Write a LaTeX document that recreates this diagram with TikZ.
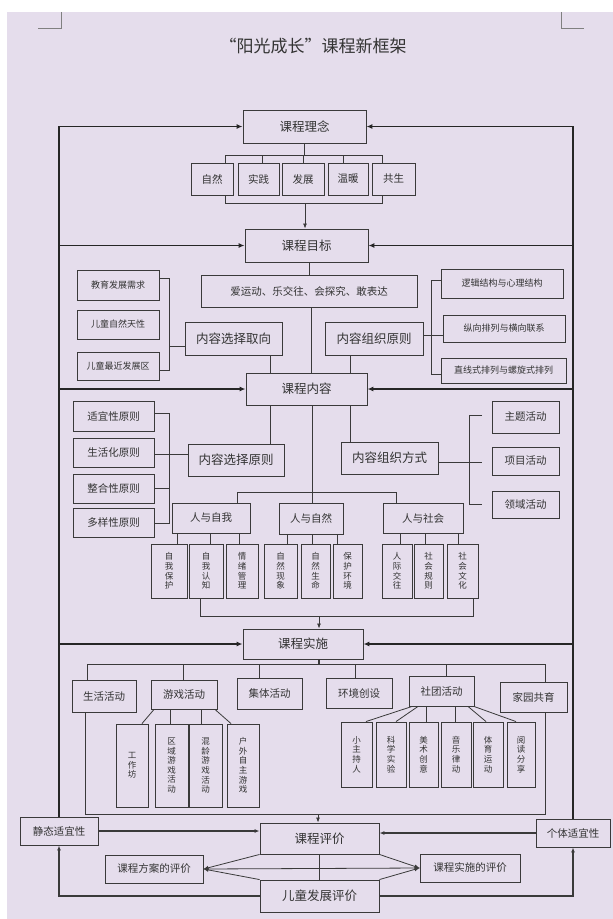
\documentclass[tikz,border=0pt]{standalone}
\usepackage{fontspec}
\setmainfont{Noto Sans CJK SC}
\usetikzlibrary{arrows.meta,calc}
\definecolor{bgc}{HTML}{E5DDEC}
\definecolor{boxc}{HTML}{3A3A3A}
\definecolor{txt}{HTML}{333333}
\begin{document}
\begin{tikzpicture}[x=1pt,y=-1pt,
 box/.style={draw=boxc,line width=0.9pt,text=txt,inner sep=0pt,align=center},
 big/.style={font=\fontsize{12.5}{14}\selectfont},
 mid/.style={font=\fontsize{10.5}{12}\selectfont},
 sml/.style={font=\fontsize{9}{10}\selectfont},
 vt/.style={font=\fontsize{8.5}{9.6}\selectfont},
 ln/.style={draw=boxc,line width=0.8pt},
 loopln/.style={draw=black!85,line width=1.7pt},
 tip/.style={-{Latex[length=6pt,width=5pt]}},
 stip/.style={-{Latex[length=5pt,width=4pt]}},
]
\useasboundingbox (0,0) rectangle (613,919);
\fill[white] (0,0) rectangle (613,919);
\fill[bgc] (7,12) rectangle (613,919);
\draw[gray,line width=0.6pt] (61,12) -- (61,28) -- (38,28);
\draw[gray,line width=0.6pt] (561,12) -- (561,28) -- (584,28);
\node[text=txt,font=\fontsize{17}{20}\selectfont] (title) at (313,46) {“阳光成长”课程新框架};

% ---- 课程理念 ----
\node[box,big,minimum width=123pt,minimum height=33pt] (lin) at (304.5,126.5) {课程理念};
\node[box,mid,minimum width=42pt,minimum height=32pt] (zr) at (212,179) {自然};
\node[box,mid,minimum width=41pt,minimum height=32pt] (sj) at (258.5,179) {实践};
\node[box,mid,minimum width=42pt,minimum height=32pt] (fz) at (303,179) {发展};
\node[box,mid,minimum width=40pt,minimum height=32pt] (wn) at (348,179) {温暖};
\node[box,mid,minimum width=43pt,minimum height=32pt] (gs) at (393.5,179) {共生};
\draw[ln] (lin.south) -- (304.5,155);
\draw[ln] (225,155) -- (382,155);
\draw[ln] (225,155) -- (225,155 |- zr.north);
\draw[ln] (262,155) -- (262,155 |- sj.north);
\draw[ln] (303,155) -- (303,155 |- fz.north);
\draw[ln] (343,155) -- (343,155 |- wn.north);
\draw[ln] (382,155) -- (382,155 |- gs.north);
\draw[ln] (zr.south -| 225,0) -- (225,203) -- (382,203) -- (gs.south -| 382,0);

% ---- 课程目标 ----
\node[box,big,minimum width=123pt,minimum height=33pt] (mb) at (306.5,245.5) {课程目标};
\draw[ln,stip] (305,203) -- (305,203 |- mb.north);
\node[box,mid,minimum width=216pt,minimum height=32pt] (ay) at (309,291) {爱运动、乐交往、会探究、敢表达};
\draw[ln] (ay.north -| 309,0) -- (309,0 |- mb.south);

\node[box,sml,minimum width=82pt,minimum height=30pt] (jy) at (118,285) {教育发展需求};
\node[box,sml,minimum width=82pt,minimum height=29pt] (tx) at (118,324.5) {儿童自然天性};
\node[box,sml,minimum width=82pt,minimum height=28pt] (zj) at (118,366) {儿童最近发展区};
\node[box,big,minimum width=97pt,minimum height=33pt] (xzqx) at (233.5,338.5) {内容选择取向};
\node[box,big,minimum width=98pt,minimum height=33pt] (zzyz) at (374,338.5) {内容组织原则};
\draw[ln] (jy.east |- 0,278) -- (169,278) -- (169,370) -- (zj.east |- 0,370);
\draw[ln] (169,346) -- (169,346 -| xzqx.west);

\node[box,sml,minimum width=122pt,minimum height=29pt] (lj) at (502,283.5) {逻辑结构与心理结构};
\node[box,sml,minimum width=122pt,minimum height=27pt] (zx) at (504,328.5) {纵向排列与横向联系};
\node[box,sml,minimum width=125pt,minimum height=25pt] (zxs) at (503.5,370.5) {直线式排列与螺旋式排列};
\draw[ln] (lj.west |- 0,280) -- (431,280) -- (431,374) -- (zxs.west |- 0,374);
\draw[ln] (zzyz.east |- 0,335) -- (zx.west |- 0,335);

% ---- 课程内容 ----
\node[box,big,minimum width=121pt,minimum height=32pt] (nr) at (306.5,389) {课程内容};
\draw[ln] (xzqx.south -| 270,0) -- (270,0 |- nr.north);
\draw[ln] (ay.south -| 311,0) -- (311,0 |- nr.north);
\draw[ln] (zzyz.south -| 350,0) -- (350,0 |- nr.north);

\node[box,mid,minimum width=81pt,minimum height=30pt] (sy) at (113.5,416) {适宜性原则};
\node[box,mid,minimum width=81pt,minimum height=29pt] (sh) at (113.5,452.5) {生活化原则};
\node[box,mid,minimum width=81pt,minimum height=29pt] (zh) at (113.5,488.5) {整合性原则};
\node[box,mid,minimum width=81pt,minimum height=29pt] (dy) at (113.5,522.5) {多样性原则};
\node[box,big,minimum width=96pt,minimum height=32pt] (xzyz) at (236,460) {内容选择原则};
\node[box,big,minimum width=97pt,minimum height=32pt] (zzfs) at (389.5,458) {内容组织方式};
\draw[ln] (sy.east |- 0,413) -- (169,413) -- (169,523) -- (dy.east |- 0,523);
\draw[ln] (169,488) -- (zh.east |- 0,488);
\draw[ln] (sh.east |- 0,454) -- (xzyz.west |- 0,454);
\draw[ln] (nr.south -| 270,0) -- (270,0 |- xzyz.north);
\draw[ln] (nr.south -| 350,0) -- (350,0 |- zzfs.north);

\node[box,mid,minimum width=67pt,minimum height=32pt] (zt) at (525.5,417) {主题活动};
\node[box,mid,minimum width=67pt,minimum height=28pt] (xm) at (525.5,461) {项目活动};
\node[box,mid,minimum width=67pt,minimum height=27pt] (ly) at (525.5,504.5) {领域活动};
\draw[ln] (482,415) -- (469,415) -- (469,504) -- (482,504);
\draw[ln] (zzfs.east |- 0,462) -- (482,462);

\node[box,mid,minimum width=78pt,minimum height=30pt] (rwzw) at (211,518) {人与自我};
\node[box,mid,minimum width=64pt,minimum height=31pt] (rwzr) at (311,518.5) {人与自然};
\node[box,mid,minimum width=80pt,minimum height=30pt] (rwsh) at (423,518) {人与社会};
\draw[ln] (nr.south -| 312,0) -- (312,492);
\draw[ln] (237,0 |- rwzw.north) -- (237,492) -- (396,492) -- (396,0 |- rwsh.north);
\draw[ln] (312,492) -- (312,0 |- rwzr.north);

\node[box,vt,minimum width=36pt,minimum height=54pt] (a1) at (169,571) {自\\我\\保\\护};
\node[box,vt,minimum width=34pt,minimum height=54pt] (a2) at (206,571) {自\\我\\认\\知};
\node[box,vt,minimum width=32pt,minimum height=54pt] (a3) at (242,571) {情\\绪\\管\\理};
\node[box,vt,minimum width=33pt,minimum height=54pt] (b1) at (280.5,571) {自\\然\\现\\象};
\node[box,vt,minimum width=29pt,minimum height=54pt] (b2) at (315.5,571) {自\\然\\生\\命};
\node[box,vt,minimum width=29pt,minimum height=54pt] (b3) at (347.5,571) {保\\护\\环\\境};
\node[box,vt,minimum width=30pt,minimum height=54pt] (c1) at (397,571) {人\\际\\交\\往};
\node[box,vt,minimum width=29pt,minimum height=54pt] (c2) at (428.5,571) {社\\会\\规\\则};
\node[box,vt,minimum width=31pt,minimum height=54pt] (c3) at (462.5,571) {社\\会\\文\\化};
\draw[ln] (rwzw.south -| 177,0) -- (177,0 |- a1.north);
\draw[ln] (rwzw.south -| 210,0) -- (210,0 |- a2.north);
\draw[ln] (rwzw.south -| 239,0) -- (239,0 |- a3.north);
\draw[ln] (rwzr.south -| 287,0) -- (287,0 |- b1.north);
\draw[ln] (rwzr.south -| 312,0) -- (312,0 |- b2.north);
\draw[ln] (rwzr.south -| 337,0) -- (337,0 |- b3.north);
\draw[ln] (rwsh.south -| 400,0) -- (400,0 |- c1.north);
\draw[ln] (rwsh.south -| 425,0) -- (425,0 |- c2.north);
\draw[ln] (rwsh.south -| 458,0) -- (458,0 |- c3.north);
\draw[ln] (a2.south -| 200,0) -- (200,616) -- (473,616) -- (473,0 |- c3.south);

% ---- 课程实施 ----
\node[box,big,minimum width=120pt,minimum height=30pt] (ss) at (303,644) {课程实施};
\draw[ln,stip] (319,616) -- (319,0 |- ss.north);
\draw[ln,line width=1.4pt] (ss.south -| 319,0) -- (319,664);
\draw[ln] (87,664) -- (545,664);
\node[box,mid,minimum width=64pt,minimum height=32pt] (shhd) at (104,696) {生活活动};
\node[box,mid,minimum width=66pt,minimum height=29pt] (yxhd) at (184,694.5) {游戏活动};
\node[box,mid,minimum width=65pt,minimum height=31pt] (jthd) at (269.5,693.5) {集体活动};
\node[box,mid,minimum width=66pt,minimum height=30pt] (hjcs) at (359,693) {环境创设};
\node[box,mid,minimum width=65pt,minimum height=30pt] (sthd) at (441.5,691) {社团活动};
\node[box,mid,minimum width=67pt,minimum height=30pt] (jygy) at (533.5,697) {家园共育};
\draw[ln] (87,664) -- (87,0 |- shhd.north);
\draw[ln] (183,664) -- (183,0 |- yxhd.north);
\draw[ln] (259,664) -- (259,0 |- jthd.north);
\draw[ln] (355,664) -- (355,0 |- hjcs.north);
\draw[ln] (446,664) -- (446,0 |- sthd.north);
\draw[ln] (545,664) -- (545,0 |- jygy.north);

\node[box,vt,minimum width=32pt,minimum height=83pt] (g1) at (132,765.5) {工\\作\\坊};
\node[box,vt,minimum width=33pt,minimum height=83pt] (g2) at (171.5,765.5) {区\\域\\游\\戏\\活\\动};
\node[box,vt,minimum width=33pt,minimum height=83pt] (g3) at (205.5,765.5) {混\\龄\\游\\戏\\活\\动};
\node[box,vt,minimum width=32pt,minimum height=83pt] (g4) at (243,765.5) {户\\外\\自\\主\\游\\戏};
\draw[ln] (yxhd.south -| 154,0) -- (142,0 |- g1.north);
\draw[ln] (yxhd.south -| 170,0) -- (170,0 |- g2.north);
\draw[ln] (yxhd.south -| 201,0) -- (201,0 |- g3.north);
\draw[ln] (yxhd.south -| 215,0) -- (231,0 |- g4.north);

\node[box,vt,minimum width=31pt,minimum height=65pt] (s1) at (356.5,754.5) {小\\主\\持\\人};
\node[box,vt,minimum width=30pt,minimum height=65pt] (s2) at (391,754.5) {科\\学\\实\\验};
\node[box,vt,minimum width=29pt,minimum height=65pt] (s3) at (423.5,754.5) {美\\术\\创\\意};
\node[box,vt,minimum width=30pt,minimum height=65pt] (s4) at (456,754.5) {音\\乐\\律\\动};
\node[box,vt,minimum width=30pt,minimum height=65pt] (s5) at (488,754.5) {体\\育\\运\\动};
\node[box,vt,minimum width=28pt,minimum height=65pt] (s6) at (521,754.5) {阅\\读\\分\\享};
\draw[ln] (sthd.south -| 412,0) -- (366,0 |- s1.north);
\draw[ln] (sthd.south -| 418,0) -- (396,0 |- s2.north);
\draw[ln] (sthd.south -| 426,0) -- (426,0 |- s3.north);
\draw[ln] (sthd.south -| 455,0) -- (455,0 |- s4.north);
\draw[ln] (sthd.south -| 468,0) -- (486,0 |- s5.north);
\draw[ln] (sthd.south -| 474,0) -- (516,0 |- s6.north);

\draw[ln] (shhd.south -| 85,0) -- (85,814) -- (545,814) -- (545,0 |- jygy.south);

% ---- 课程评价 ----
\node[box,mid,minimum width=78pt,minimum height=28pt] (jt) at (59,831) {静态适宜性};
\node[box,big,minimum width=119pt,minimum height=31pt] (pj) at (319.5,838.5) {课程评价};
\node[box,mid,minimum width=74pt,minimum height=28pt] (gt) at (573,833) {个体适宜性};
\node[box,mid,minimum width=98pt,minimum height=28pt] (fa) at (154,869) {课程方案的评价};
\node[box,mid,minimum width=100pt,minimum height=28pt] (ssp) at (470,868) {课程实施的评价};
\node[box,big,minimum width=119pt,minimum height=32pt] (et) at (319.5,896) {儿童发展评价};
\draw[ln,stip] (318,814) -- (318,0 |- pj.north);
\draw[ln,line width=1.2pt,stip] (jt.east) -- (jt.east -| pj.west);
\draw[ln,line width=1.2pt,stip] (gt.west) -- (gt.west -| pj.east);
\draw[ln,line width=1.2pt,stip] (et.west) -- (et.west -| jt.south) -- (jt.south);
\draw[ln,line width=1.2pt,stip] (et.east) -- (et.east -| gt.south) -- (gt.south);
\draw[ln,stip] (pj.south west) -- (fa.east);
\draw[ln,stip] (et.north west) -- (fa.east);
\draw[ln,stip] (pj.south east) -- (ssp.west);
\draw[ln,stip] (et.north east) -- (ssp.west);
\draw[ln] (fa.east) -- (ssp.west);
\draw[ln] (pj.south) -- (et.north);

% ---- 外环反馈线 ----
\draw[loopln,tip] (jt.north) -- (jt.north |- lin.west) -- (lin.west);
\draw[loopln,tip] (jt.north |- mb.west) -- (mb.west);
\draw[loopln,tip] (jt.north |- nr.west) -- (nr.west);
\draw[loopln,tip] (jt.north |- ss.west) -- (ss.west);
\draw[loopln,tip] (gt.north) -- (gt.north |- lin.east) -- (lin.east);
\draw[loopln,tip] (gt.north |- mb.east) -- (mb.east);
\draw[loopln,tip] (gt.north |- nr.east) -- (nr.east);
\draw[loopln,tip] (gt.north |- ss.east) -- (ss.east);
\end{tikzpicture}
\end{document}
